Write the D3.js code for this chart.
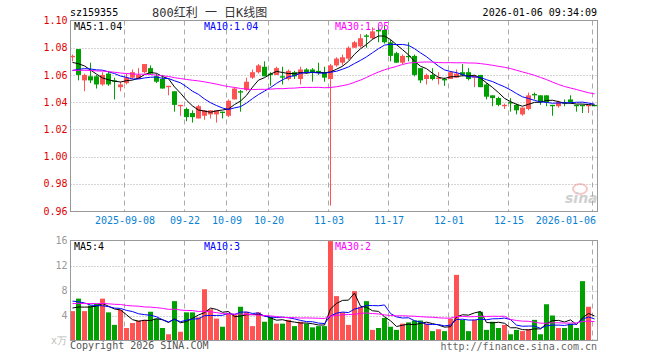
<!DOCTYPE html>
<html><head><meta charset="utf-8">
<script src="https://cdn.jsdelivr.net/npm/d3@7"></script>
<style>
html,body{margin:0;padding:0;background:#fff;}
svg{display:block;}
text{font-family:"DejaVu Sans Mono","Liberation Mono",monospace;font-size:10px;}
</style></head><body>
<svg id="chart" width="660" height="360"></svg>
<script>
// ---------------- data ----------------
const dates = [
"2025-08-26","2025-08-27","2025-08-28","2025-08-29",
"2025-09-01","2025-09-02","2025-09-03","2025-09-04","2025-09-05",
"2025-09-08","2025-09-09","2025-09-10","2025-09-11","2025-09-12",
"2025-09-15","2025-09-16","2025-09-17","2025-09-18","2025-09-19",
"2025-09-22","2025-09-23","2025-09-24","2025-09-25","2025-09-26",
"2025-09-29","2025-09-30","2025-10-09","2025-10-10",
"2025-10-13","2025-10-14","2025-10-15","2025-10-16","2025-10-17",
"2025-10-20","2025-10-21","2025-10-22","2025-10-23","2025-10-24",
"2025-10-27","2025-10-28","2025-10-29","2025-10-30","2025-10-31",
"2025-11-03","2025-11-04","2025-11-05","2025-11-06","2025-11-07",
"2025-11-10","2025-11-11","2025-11-12","2025-11-13","2025-11-14",
"2025-11-17","2025-11-18","2025-11-19","2025-11-20","2025-11-21",
"2025-11-24","2025-11-25","2025-11-26","2025-11-27","2025-11-28",
"2025-12-01","2025-12-02","2025-12-03","2025-12-04","2025-12-05",
"2025-12-08","2025-12-09","2025-12-10","2025-12-11","2025-12-12",
"2025-12-15","2025-12-16","2025-12-17","2025-12-18","2025-12-19",
"2025-12-22","2025-12-23","2025-12-24","2025-12-25","2025-12-26",
"2025-12-29","2025-12-30","2025-12-31","2026-01-05","2026-01-06"];

const opens = [1.073,1.079,1.056,1.059,1.059,1.053,1.061,1.056,1.051,1.054,
1.058,1.057,1.062,1.065,1.059,1.057,1.051,1.048,1.037,1.035,
1.032,1.028,1.030,1.031,1.031,1.033,1.030,1.042,1.048,1.049,
1.058,1.062,1.066,1.061,1.060,1.059,1.057,1.062,1.057,1.064,
1.064,1.063,1.062,1.057,1.067,1.069,1.072,1.080,1.081,1.089,
1.087,1.093,1.093,1.084,1.076,1.069,1.074,1.074,1.065,1.057,
1.060,1.057,1.057,1.057,1.058,1.062,1.062,1.058,1.060,1.053,
1.045,1.043,1.037,1.040,1.038,1.031,1.035,1.046,1.045,1.045,
1.038,1.037,1.040,1.042,1.038,1.038,1.037,1.038];
const highs = [1.075,1.079,1.061,1.069,1.060,1.062,1.063,1.058,1.055,1.061,
1.064,1.065,1.068,1.067,1.061,1.060,1.052,1.048,1.038,1.036,
1.034,1.038,1.034,1.034,1.034,1.033,1.042,1.051,1.049,1.058,
1.064,1.068,1.070,1.062,1.066,1.066,1.064,1.063,1.066,1.065,
1.065,1.069,1.066,1.068,1.073,1.075,1.081,1.085,1.090,1.090,
1.095,1.095,1.096,1.086,1.077,1.075,1.084,1.075,1.065,1.061,
1.065,1.062,1.058,1.063,1.064,1.068,1.065,1.060,1.060,1.054,
1.045,1.044,1.039,1.043,1.039,1.036,1.047,1.047,1.045,1.045,
1.038,1.041,1.042,1.045,1.038,1.038,1.038,1.038];
const lows = [1.070,1.056,1.048,1.054,1.050,1.052,1.052,1.042,1.048,1.053,
1.057,1.057,1.061,1.060,1.054,1.050,1.045,1.033,1.030,1.026,
1.025,1.028,1.027,1.028,1.025,1.028,1.029,1.042,1.033,1.048,
1.057,1.061,1.059,1.052,1.060,1.053,1.056,1.057,1.053,1.061,
1.055,1.060,1.055,0.964,1.066,1.067,1.071,1.080,1.080,1.080,
1.086,1.084,1.083,1.070,1.069,1.068,1.070,1.059,1.054,1.053,
1.056,1.053,1.052,1.057,1.058,1.059,1.056,1.051,1.051,1.042,
1.037,1.037,1.035,1.033,1.031,1.030,1.034,1.042,1.038,1.037,
1.030,1.036,1.037,1.039,1.033,1.032,1.032,1.037];
const closes = [1.074,1.060,1.060,1.056,1.053,1.060,1.053,1.055,1.053,1.058,
1.062,1.060,1.068,1.061,1.055,1.050,1.052,1.038,1.038,1.029,
1.029,1.037,1.034,1.034,1.034,1.032,1.041,1.050,1.047,1.055,
1.062,1.067,1.059,1.060,1.065,1.058,1.063,1.059,1.064,1.062,
1.062,1.062,1.058,1.067,1.072,1.073,1.080,1.084,1.087,1.088,
1.092,1.092,1.084,1.074,1.069,1.074,1.073,1.060,1.056,1.060,
1.057,1.058,1.056,1.062,1.061,1.060,1.057,1.059,1.051,1.044,
1.043,1.038,1.038,1.039,1.034,1.036,1.045,1.045,1.040,1.040,
1.037,1.040,1.039,1.040,1.037,1.037,1.038,1.037];
const volumes = [4.7,6.7,4.7,5.6,5.9,6.7,4.5,2.5,4.9,2.0,
2.8,3.2,3.3,4.6,3.5,2.0,1.0,6.3,1.4,4.5,
4.5,3.7,8.2,5.0,3.5,2.2,4.3,4.1,5.4,4.6,
2.3,4.5,3.0,3.75,2.7,2.7,3.3,2.3,3.0,2.7,
2.1,2.3,2.3,15.9,7.1,4.5,2.5,7.9,5.4,6.3,
1.7,2.0,3.6,2.2,1.7,2.7,2.9,3.2,3.2,2.7,
1.5,1.8,1.5,3.5,10.5,3.3,1.5,3.3,4.6,1.7,
3.0,2.0,2.5,1.0,1.7,1.5,1.8,3.3,1.0,5.8,
4.0,2.0,2.0,2.7,2.0,9.5,5.4,0.1];
// sessions before the visible window (estimated from the MA lines' starting levels)
const priorCloses = [1.058,1.061,1.060,1.062,
1.064,1.066,1.068,1.070,1.069,1.071,1.068,1.066,1.067,1.069,1.066,1.065,1.066,
1.056,1.050,1.046,
1.052,1.055,1.058,1.060,1.062,
1.065,1.068,1.071,1.068];
const priorVolumes = [5.2,6.1,4.8,7.0,5.5,6.3,4.9,5.8,6.6,5.0,4.6,6.9,5.4,6.2,5.1,6.0,5.7,5.3,6.4,5.2,
7.8,6.5,8.9,6.9,6.9,
5.9,4.8,5.5,5.1];

const priceTicks = [0.96,0.98,1.00,1.02,1.04,1.06,1.08,1.10];
const volumeTicks = [4,8,12,16];
const dateTickDates = ["2025-09-08","2025-09-22","2025-10-09","2025-10-20","2025-11-03","2025-11-17","2025-12-01","2025-12-15","2026-01-06"];
const dateTickLabels = ["2025-09-08","09-22","10-09","10-20","11-03","11-17","12-01","12-15","2026-01-06"];
const maPeriods = [5,10,30];
const priceLegend = ["MA5:1.04","MA10:1.04","MA30:1.05"];
const volumeLegend = ["MA5:4","MA10:3","MA30:2"];
const symbolText = "sz159355";
const titleText = "800红利 一 日K线图";
const timeText = "2026-01-06 09:34:09";

// ---------------- layout ----------------
const L = 70.5, R = 597.5;
const mainTop = 20.5, mainBot = 211;
const volTop = 240.5, volBot = 340.5;
const RED = "#ff5252", GREEN = "#00a000";
const maColors = ["#000000","#0000ff","#ff00ff"];
const legendX = [74, 204, 335];

const svg = d3.select("#chart");
const n = closes.length;
const x = d3.scaleLinear().domain([0, n-1]).range([72, 72 + 6*(n-1)]);
const y = d3.scaleLinear().domain([0.96, 1.10]).range([mainBot, mainTop]);
const yv = d3.scaleLinear().domain([0, 16]).range([volBot, volTop]);
const crisp = v => Math.round(v) + 0.5;
const gridX = i => x(i) - 1.5;
const tickIdx = dateTickDates.map(d => dates.indexOf(d));

// moving averages
function movingAvg(prior, vals, p) {
  const all = prior.concat(vals);
  const off = prior.length;
  return vals.map((v, i) => d3.mean(all.slice(off + i - p + 1, off + i + 1)));
}
const priceMA = maPeriods.map(p => movingAvg(priorCloses, closes, p));
const volMA = maPeriods.map(p => movingAvg(priorVolumes, volumes, p));

svg.append("defs").call(d => {
  d.append("clipPath").attr("id","clipMain").append("rect").attr("x",L).attr("y",mainTop).attr("width",R-L).attr("height",mainBot-mainTop);
  d.append("clipPath").attr("id","clipVol").append("rect").attr("x",L).attr("y",volTop).attr("width",R-L).attr("height",volBot-volTop);
});

// ---- header texts
svg.append("text").attr("x",70).attr("y",16).attr("fill","#000").text(symbolText);
svg.append("text").attr("x",152).attr("y",17).attr("fill","#333")
  .style("font-size","12px").style("font-family","'DejaVu Sans Mono','Noto Sans CJK SC',monospace").text(titleText);
svg.append("text").attr("x",597).attr("y",16).attr("text-anchor","end").attr("fill","#000").text(timeText);

// ---- grid: main
const gMain = svg.append("g");
gMain.selectAll("line.hg").data(priceTicks.slice(1,-1)).join("line")
  .attr("x1",L).attr("x2",R).attr("y1",d=>crisp(y(d))-0).attr("y2",d=>crisp(y(d)))
  .attr("stroke","#aaa").attr("stroke-dasharray","1,2");
gMain.selectAll("line.vg").data(tickIdx).join("line")
  .attr("x1",d=>gridX(d)).attr("x2",d=>gridX(d)).attr("y1",mainTop).attr("y2",mainBot)
  .attr("stroke","#aaa").attr("stroke-dasharray","5,4");

// ---- grid: volume
const gVol = svg.append("g");
gVol.selectAll("line.hg").data(volumeTicks.slice(0,-1)).join("line")
  .attr("x1",L).attr("x2",R).attr("y1",d=>crisp(yv(d))).attr("y2",d=>crisp(yv(d)))
  .attr("stroke","#aaa").attr("stroke-dasharray","1,2");
gVol.selectAll("line.vg").data(tickIdx).join("line")
  .attr("x1",d=>gridX(d)).attr("x2",d=>gridX(d)).attr("y1",volTop).attr("y2",volBot)
  .attr("stroke","#aaa").attr("stroke-dasharray","5,4");

// ---- watermark
const wm = svg.append("g").attr("opacity",0.55);
wm.append("ellipse").attr("cx",580).attr("cy",189).attr("rx",7).attr("ry",5).attr("fill","none").attr("stroke","#f19a9a").attr("stroke-width",2);
wm.append("text").attr("x",565).attr("y",203).attr("fill","#aaa").style("font-family","'DejaVu Sans',sans-serif")
  .style("font-size","14px").style("font-weight","bold").style("font-style","italic").text("sina");

// ---- candles
const candles = svg.append("g").attr("clip-path","url(#clipMain)");
const up = i => closes[i] >= opens[i];
const idx = d3.range(n);
candles.selectAll("line.wick").data(idx).join("line")
  .attr("x1",i=>x(i)+0.5).attr("x2",i=>x(i)+0.5)
  .attr("y1",i=>y(highs[i])).attr("y2",i=>y(lows[i]))
  .attr("stroke",i=>up(i)?RED:GREEN).attr("stroke-width",1);
candles.selectAll("rect.body").data(idx).join("rect")
  .attr("x",i=>x(i)-2).attr("width",5)
  .attr("y",i=>y(Math.max(opens[i],closes[i])))
  .attr("height",i=>Math.max(1.2, Math.abs(y(opens[i])-y(closes[i]))))
  .attr("fill",i=>up(i)?RED:GREEN);

// ---- price MA lines
const maG = svg.append("g").attr("clip-path","url(#clipMain)");
priceMA.forEach((arr,k)=>{
  maG.append("path").datum(arr)
    .attr("d", d3.line().x((d,i)=>x(i)+0.5).y(d=>y(d)))
    .attr("fill","none").attr("stroke",maColors[k]).attr("stroke-width",1);
});

// ---- volume bars
const vb = svg.append("g").attr("clip-path","url(#clipVol)");
vb.selectAll("rect").data(idx).join("rect")
  .attr("x",i=>x(i)-2).attr("width",5)
  .attr("y",i=>yv(volumes[i])).attr("height",i=>volBot-yv(volumes[i]))
  .attr("fill",i=>up(i)?RED:GREEN);
volMA.forEach((arr,k)=>{
  vb.append("path").datum(arr)
    .attr("d", d3.line().x((d,i)=>x(i)+0.5).y(d=>yv(d)))
    .attr("fill","none").attr("stroke",maColors[k]).attr("stroke-width",1);
});

// ---- borders
svg.append("rect").attr("x",L).attr("y",mainTop).attr("width",R-L).attr("height",mainBot-mainTop+0.5)
  .attr("fill","none").attr("stroke","#999");
svg.append("rect").attr("x",L).attr("y",volTop).attr("width",R-L).attr("height",volBot-volTop)
  .attr("fill","none").attr("stroke","#999");

// ---- axes
const yAxis = d3.axisLeft(y).tickValues(priceTicks).tickFormat(d3.format(".2f")).tickSize(0).tickPadding(3);
const ya = svg.append("g").attr("transform",`translate(${L},0)`).call(yAxis);
ya.select(".domain").remove();
ya.selectAll("text").attr("fill","#e00000").style("font-family","'DejaVu Sans Mono',monospace").style("font-size","10px");

const vAxis = d3.axisLeft(yv).tickValues(volumeTicks).tickFormat(d3.format("d")).tickSize(0).tickPadding(3);
const va = svg.append("g").attr("transform",`translate(${L},0)`).call(vAxis);
va.select(".domain").remove();
va.selectAll("text").attr("fill","#999").style("font-family","'DejaVu Sans Mono',monospace").style("font-size","10px");
svg.append("text").attr("x",67).attr("y",344).attr("text-anchor","end").attr("fill","#bbb").text("x万");

const xAxis = d3.axisBottom(d3.scaleLinear().domain(x.domain()).range(x.range().map(v=>v-1.5)))
  .tickValues(tickIdx).tickFormat((d,k)=>dateTickLabels[k]).tickSize(0).tickPadding(6);
const xa = svg.append("g").attr("transform",`translate(0,${mainBot})`).call(xAxis);
xa.select(".domain").remove();
xa.selectAll("text").attr("fill","#0a82d2").style("font-family","'DejaVu Sans Mono',monospace").style("font-size","10px");
xa.selectAll(".tick").filter((d,k)=>k===tickIdx.length-1).select("text").attr("text-anchor","end").attr("dx","3");

// ---- legends
priceLegend.forEach((t,k)=>svg.append("text").attr("x",legendX[k]).attr("y",30).attr("fill",maColors[k]).text(t));
volumeLegend.forEach((t,k)=>svg.append("text").attr("x",legendX[k]).attr("y",250).attr("fill",maColors[k]).text(t));

// ---- footer
svg.append("text").attr("x",70).attr("y",349).attr("fill","#555").text("Copyright 2026 SINA.COM");
svg.append("text").attr("x",597).attr("y",350).attr("text-anchor","end").attr("fill","#666").text("http://finance.sina.com.cn");
</script>
</body></html>
